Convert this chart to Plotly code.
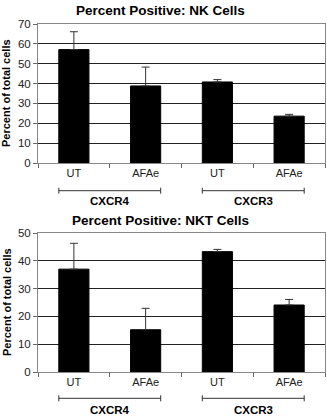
import plotly.graph_objects as go

# ---- data ----
groups = ["CXCR4", "CXCR4", "CXCR3", "CXCR3"]
treatments = ["UT", "AFAe", "UT", "AFAe"]
categories = ["CXCR4 UT", "CXCR4 AFAe", "CXCR3 UT", "CXCR3 AFAe"]

nk_values = [57.1, 38.8, 40.8, 23.6]
nk_errors = [9.0, 9.5, 1.2, 0.9]

nkt_values = [37.0, 15.2, 43.3, 24.1]
nkt_errors = [9.3, 7.7, 0.8, 2.0]

titles = ["Percent Positive: NK Cells", "Percent Positive: NKT Cells"]
y_title = "Percent of total cells"
nk_ymax, nkt_ymax = 70, 50

FONT = "Liberation Sans, Arial, sans-serif"
W, H = 327, 417
ML, MR, MT, MB = 38, 2, 24, 45
PH = H - MT - MB  # plot height in px


def py(pix):
    """reference pixel row -> paper y"""
    return (H - MB - pix) / PH


def px(pix):
    return (pix - ML) / (W - ML - MR)


fig = go.Figure()
for i, (vals, errs) in enumerate([(nk_values, nk_errors), (nkt_values, nkt_errors)]):
    sfx = "" if i == 0 else "2"
    fig.add_trace(go.Bar(
        x=categories, y=vals,
        xaxis="x" + sfx, yaxis="y" + sfx,
        marker=dict(color="black", line=dict(color="black", width=1)),
        error_y=dict(type="data", symmetric=False, array=errs,
                     arrayminus=[0] * len(errs), color="#333", thickness=1, width=4),
        showlegend=False, hoverinfo="skip",
    ))

axis_common = dict(linecolor="#888", linewidth=1, mirror=True, showline=True)
xcommon = dict(axis_common, type="category", tickson="boundaries", ticks="outside",
               ticklen=4, tickcolor="#666", tickvals=categories, ticktext=treatments,
               tickfont=dict(family=FONT, size=11, color="#222"), range=[-0.5, 3.5],
               showgrid=False)
ycommon = dict(axis_common, ticks="outside", ticklen=4, tickcolor="#666",
               showgrid=True, gridcolor="#222", gridwidth=1, zeroline=False,
               tickfont=dict(family=FONT, size=11.5, color="#222"), dtick=10)

dom_top = [py(163), 1.0]
dom_bot = [0.0, py(233)]

fig.update_layout(
    width=W, height=H,
    margin=dict(l=ML, r=MR, t=MT, b=MB),
    paper_bgcolor="white", plot_bgcolor="white",
    bargap=0.58,
    xaxis=dict(xcommon, anchor="y"),
    yaxis=dict(ycommon, domain=dom_top, range=[0, nk_ymax], anchor="x"),
    xaxis2=dict(xcommon, anchor="y2"),
    yaxis2=dict(ycommon, domain=dom_bot, range=[0, nkt_ymax], anchor="x2"),
)

annotations = []
shapes = []
title_rows = [10, 220]
bracket_rows = [190.7, 398.3]
group_rows = [200.5, 409.5]
half = (1 - 0.58) / 2
for i in range(2):
    sfx = "" if i == 0 else "2"
    annotations.append(dict(text="<b>%s</b>" % titles[i], xref="paper", yref="paper",
                            x=px(160), y=py(title_rows[i]), xanchor="center", yanchor="middle",
                            showarrow=False, font=dict(family=FONT, size=13.5, color="black")))
    dom = dom_top if i == 0 else dom_bot
    annotations.append(dict(text="<b>%s</b>" % y_title, xref="paper", yref="paper",
                            x=px(6.5), y=(dom[0] + dom[1]) / 2, textangle=-90,
                            xanchor="center", yanchor="middle", showarrow=False,
                            font=dict(family=FONT, size=11, color="black")))
    for g, (a, b) in zip(["CXCR4", "CXCR3"], [(0, 1), (2, 3)]):
        x0, x1 = a - half, b + half
        yb = py(bracket_rows[i])
        shapes.append(dict(type="line", xref="x" + sfx, yref="paper", x0=x0, x1=x1,
                           y0=yb, y1=yb, line=dict(color="#333", width=1)))
        for xe in (x0, x1):
            shapes.append(dict(type="line", xref="x" + sfx, yref="paper", x0=xe, x1=xe,
                               y0=yb - 3 / PH, y1=yb + 3 / PH, line=dict(color="#333", width=1)))
        annotations.append(dict(text="<b>%s</b>" % g, xref="x" + sfx, yref="paper",
                                x=(a + b) / 2, y=py(group_rows[i]), xanchor="center",
                                yanchor="middle", showarrow=False,
                                font=dict(family=FONT, size=11.5, color="black")))

fig.update_layout(annotations=annotations, shapes=shapes)
fig.write_html("out.html", config={"displayModeBar": False},
               post_script="document.body.style.margin='0';document.body.style.padding='0';")
